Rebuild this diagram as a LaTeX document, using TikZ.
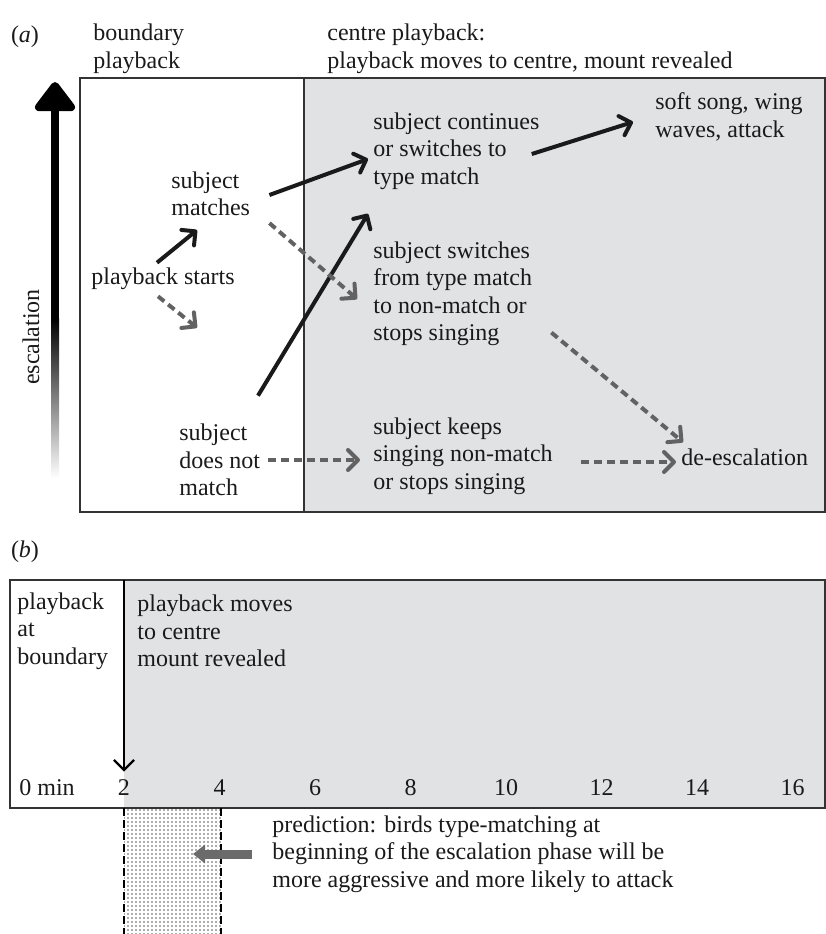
\documentclass[tikz,border=0pt]{standalone}
\usepackage{fontspec}
\setmainfont{Liberation Serif}
\usetikzlibrary{arrows.meta,patterns.meta}
\definecolor{panelgrey}{HTML}{E1E2E4}
\definecolor{dashgrey}{HTML}{626262}
\definecolor{inkblack}{HTML}{1A1A1A}

\begin{document}
\begin{tikzpicture}[x=0.5pt, y=-0.5pt,
        every node/.style={font=\fontsize{12}{13.75}\selectfont, inner sep=0pt, text=inkblack},
        txt/.style={anchor=west, align=left},
        frame/.style={draw=black!80, line width=0.8pt},
        solidarrow/.style={draw=inkblack, line width=2pt, -{Straight Barb[length=5pt, width=10pt, round]}},
        dasharrow/.style={draw=dashgrey, line width=2pt, dash pattern=on 4pt off 2.5pt, -{Straight Barb[length=5pt, width=10pt, round]}},
        divarrow/.style={draw=black, line width=1.2pt, -{Straight Barb[length=5pt, width=10pt]}, shorten >=4pt},
        window/.style={draw=black, line width=1.4pt, dash pattern=on 4pt off 2pt},
        predarrow/.style={draw=black!58, line width=4.5pt, -{Triangle[length=6pt, width=9pt]}}
    ]
        \useasboundingbox (0,0) rectangle (826,934);

        % (a)
        \fill[panelgrey] (304,78) rectangle (825,512);
        \draw[frame] (80,78) rectangle (825,512);
        \draw[frame] (304,78) -- (304,512);
        \node (LBLA) at (25,37) {(\textit{a})};
        \node[txt] (BNDHEAD) at (93,49) {
            boundary\\playback
        };
        \node[txt] (CTRHEAD) at (327,49) {
            centre playback:\\playback moves to centre, mount revealed
        };

        \coordinate (ESCLOW) at (55,318);
        \coordinate (ESCTOP) at (55,82);
        \shade[top color=black, bottom color=white] (51,318) rectangle (59,478);
        \draw[line width=4pt, -{Triangle[round, length=16pt, width=23pt]}] (ESCLOW) -- (ESCTOP);
        \node[rotate=90] (ESC) at (31,337) {escalation};

        \node[txt] (ATTACK) at (655,117) {
            soft song, wing\\waves, attack
        };
        \node[txt] (CONT) at (373,151) {
            subject continues\\or switches to\\type match
        };
        \node[txt] (MATCH) at (171,194) {
            subject\\matches
        };
        \node[txt] (START) at (91,279) {
            playback starts
        };
        \node[txt] (SWITCH) at (373,294) {
            subject switches\\from type match\\to non-match or\\stops singing
        };
        \node[txt] (NOMATCH) at (179,460) {
            subject\\does not\\match
        };
        \node[txt] (KEEP) at (373,456) {
            subject keeps\\singing non-match\\or stops singing
        };
        \node[txt] (DEESC) at (681,457) {
            de-escalation
        };
        \draw[solidarrow] ([xshift=33pt, yshift=2.5pt]START.north west) -- ([xshift=13pt, yshift=-6.75pt]MATCH.south west);
        \draw[solidarrow] ([xshift=9.5pt, yshift=-0.5pt]MATCH.east) -- ([xshift=-2.5pt, yshift=-4pt]CONT.west);
        \draw[solidarrow] ([xshift=39.5pt, yshift=14pt]NOMATCH.north west) -- ([xshift=-2.5pt, yshift=-12pt]CONT.south west);
        \draw[solidarrow] ([xshift=-4pt, yshift=-1.5pt]CONT.east) -- ([xshift=-11pt, yshift=-2.5pt]ATTACK.west);
        \draw[dasharrow] ([xshift=33.5pt, yshift=-3pt]START.south west) -- ([xshift=9pt, yshift=48pt]NOMATCH.north west);
        \draw[dasharrow] ([xshift=9.5pt, yshift=-3.25pt]MATCH.south east) -- ([xshift=-8pt, yshift=-2.5pt]SWITCH.west);
        \draw[dasharrow] ([xshift=9.5pt, yshift=7pt]SWITCH.south east) -- ([xshift=1pt, yshift=3pt]DEESC.north west);
        \draw[dasharrow] ([xshift=4pt]NOMATCH.east) -- ([xshift=-6.5pt, yshift=-2pt]KEEP.west);
        \draw[dasharrow] ([xshift=14pt, yshift=-3pt]KEEP.east) -- ([xshift=-2.5pt, yshift=-2.5pt]DEESC.west);

        % (b)
        \node (LBLB) at (25,552) {(\textit{b})};
        \fill[panelgrey] (124,580) rectangle (825,808);
        \draw[frame] (10,580) rectangle (825,808);
        \coordinate (DIVTOP) at (124,580);
        \node[txt] (ATBND) at (17,631) {
            playback\\at\\boundary
        };
        \node[txt] (MOVED) at (137,631) {
            playback moves\\to centre\\mount revealed
        };
        \node (T0) at (47,788) {0 min};
        \foreach \t in {2,4,...,16}
            \node (T\t) at ({124+(\t-2)*47.75},788) {\t};
        \draw[divarrow] (DIVTOP) -- (T2.north);

        \fill[pattern={Dots[distance=2pt, radius=0.45pt]}, pattern color=black!65] (124,808) rectangle (221,934);
        \draw[window] (124,808) -- (124,934);
        \draw[window] (221,808) -- (221,934);
        \node[txt] (PRED) at (272,854) {
            prediction: birds type-matching at\\beginning of the escalation phase will be\\more aggressive and more likely to attack
        };
        \coordinate (PREDTIP) at (193,854);
        \draw[predarrow] ([xshift=-10pt]PRED.west) -- (PREDTIP);
\end{tikzpicture}
\end{document}
